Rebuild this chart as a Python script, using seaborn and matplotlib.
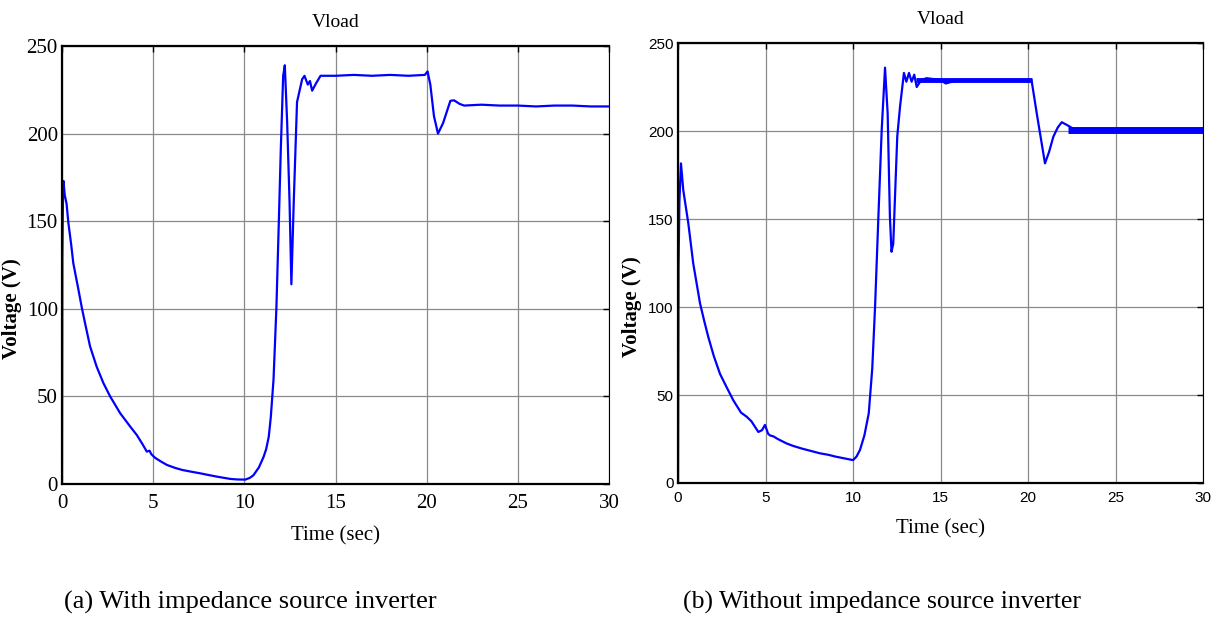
import seaborn as sns
import matplotlib.pyplot as plt
import pandas as pd

# (a) with impedance source inverter
t_a = [0, 0.02, 0.05, 0.08, 0.15, 0.25, 0.35, 0.5, 0.62, 0.9, 1.08, 1.26, 1.54, 1.9, 2.27, 2.64,
       3.19, 3.74, 4.1, 4.4, 4.65, 4.8, 4.9, 5.1, 5.4, 5.75, 6.2, 6.6, 7.1, 7.58, 8.0, 8.5,
       9.23, 9.6, 10.05, 10.3, 10.5, 10.8, 11.06, 11.2, 11.34, 11.45, 11.6, 11.68, 11.76,
       11.89, 12.0, 12.13, 12.22, 12.35, 12.48, 12.58, 12.71, 12.89, 13.17, 13.3, 13.48,
       13.6, 13.72, 13.95, 14.18, 15, 16, 17, 18, 19, 19.9, 20.05, 20.2, 20.4, 20.62,
       20.9, 21.3, 21.5, 21.8, 22.05, 23, 24, 25, 26, 27, 28, 29, 30]
v_a = [0, 130, 160, 173, 165, 160, 149, 137, 126, 111, 101, 92, 78.5, 67, 57.6, 50,
       40.4, 32.8, 28, 23, 18.5, 19, 17, 15, 13, 10.9, 9.2, 8, 7, 6.1, 5.2, 4.2,
       2.9, 2.6, 2.5, 3.5, 5, 9.5, 15.6, 20, 27, 38, 59.5, 80, 101,
       149, 191, 233, 239, 206, 161, 114, 161, 218, 231, 233, 228,
       230, 224.5, 229, 233, 233, 233.5, 233, 233.5, 233, 233.5, 235.5, 228, 210, 200,
       206, 218.7, 219, 217, 216, 216.5, 216, 216, 215.5, 216, 216, 215.5, 215.5]

# (b) without impedance source inverter
t_b = [0, 0.03, 0.08, 0.17, 0.3, 0.59, 0.87, 1.26, 1.5, 1.73, 2.05, 2.4, 2.8, 3.16, 3.6,
       3.92, 4.2, 4.59, 4.8, 4.97, 5.15, 5.26, 5.45, 5.7, 6.2, 6.6, 7.1, 7.6, 8.1, 8.6,
       9.0, 9.5, 10.0, 10.2, 10.4, 10.65, 10.9, 11.1, 11.26, 11.45, 11.64, 11.83, 11.98,
       12.11, 12.2, 12.3, 12.53, 12.69, 12.91, 13.05, 13.2, 13.35, 13.5, 13.64, 13.9,
       14.2, 15, 15.3, 16, 17, 18, 19, 20.2, 20.5, 20.97, 21.2, 21.45, 21.7, 21.93,
       22.3, 22.8, 24, 26, 28, 30]
v_b = [0, 122, 160, 181.6, 166.5, 147.5, 124.8, 102, 92, 83, 72, 62, 54, 47, 40,
       37.7, 35, 29, 30, 33, 28, 27, 26.5, 25, 22.5, 21, 19.5, 18.2, 16.9, 16,
       15, 14, 13, 15, 18.8, 27, 39.6, 65, 100, 151, 200.6, 236, 210,
       151, 131.4, 136, 197, 214, 233, 228, 233, 228, 232, 225, 229,
       230, 229, 227, 229, 229, 229, 229, 229, 210, 181.6, 188, 196.8, 202, 205,
       203, 200, 200.5, 200.5, 200.5, 200.5]

# ripple bands in (b) steady states
band_t = [[13.6, 20.2], [22.3, 30.0]]
band_v = [[229, 229], [200.5, 200.5]]

x_ticks = [0, 5, 10, 15, 20, 25, 30]
y_ticks = [0, 50, 100, 150, 200, 250]
captions = ["(a) With impedance source inverter", "(b) Without impedance source inverter"]

sns.set_style("white")
plt.rcParams['font.family'] = ['Liberation Serif', 'DejaVu Serif']
plt.rcParams['text.color'] = 'black'
plt.rcParams['axes.labelcolor'] = 'black'

fig = plt.figure(figsize=(12.19, 6.3), dpi=100)
ax1 = fig.add_axes([62 / 1219, 1 - 484 / 630, 547 / 1219, 438 / 630])
ax2 = fig.add_axes([678 / 1219, 1 - 483 / 630, 525 / 1219, 440 / 630])

df_a = pd.DataFrame({"t": t_a, "v": v_a})
df_b = pd.DataFrame({"t": t_b, "v": v_b})
sns.lineplot(data=df_a, x="t", y="v", ax=ax1, color="#0000ff", lw=1.6, sort=False, estimator=None)
sns.lineplot(data=df_b, x="t", y="v", ax=ax2, color="#0000ff", lw=1.6, sort=False, estimator=None)
for bt, bv, w in zip(band_t, band_v, [3.5, 5.0]):
    ax2.plot(bt, bv, color="#0000ff", lw=w, solid_capstyle="butt")

tick_fonts = [dict(family=['Liberation Serif'], size=15),
              dict(family=['Liberation Sans Narrow', 'Liberation Sans'], size=11)]
tick_pads = [7, 6]
ylabel_x = [-0.074, -0.069]
caption_sizes = [19, 18.5]

for ax, tf, tp, yx, cs, cap, cx in zip([ax1, ax2], tick_fonts, tick_pads, ylabel_x, caption_sizes,
                                        captions, [250 / 1219, 882 / 1219]):
    ax.set_xlim(0, 30)
    ax.set_ylim(0, 250)
    ax.set_xticks(x_ticks)
    ax.set_yticks(y_ticks)
    ax.set_xticklabels([str(x) for x in x_ticks], fontdict=tf)
    ax.set_yticklabels([str(y) for y in y_ticks], fontdict=tf)
    ax.tick_params(direction="in", length=4, width=1, top=True, right=True, colors="black")
    ax.tick_params(axis="x", pad=tp)
    ax.tick_params(axis="y", pad=3)
    ax.grid(True, color="#8a8a8a", lw=0.9)
    for s in ax.spines.values():
        s.set_color("black")
        s.set_linewidth(1.6)
    ax.spines["right"].set_linewidth(0.8)
    ax.set_title("Vload", fontsize=14, pad=14)
    ax.set_xlabel("Time (sec)", fontsize=15, labelpad=10)
    ax.set_ylabel("Voltage (V)", fontsize=15, fontweight="bold")
    ax.yaxis.set_label_coords(yx, 0.40)
    fig.text(cx, 1 - 602 / 630, cap, fontsize=cs, ha="center", va="center")

plt.savefig("out.png", dpi=100)
